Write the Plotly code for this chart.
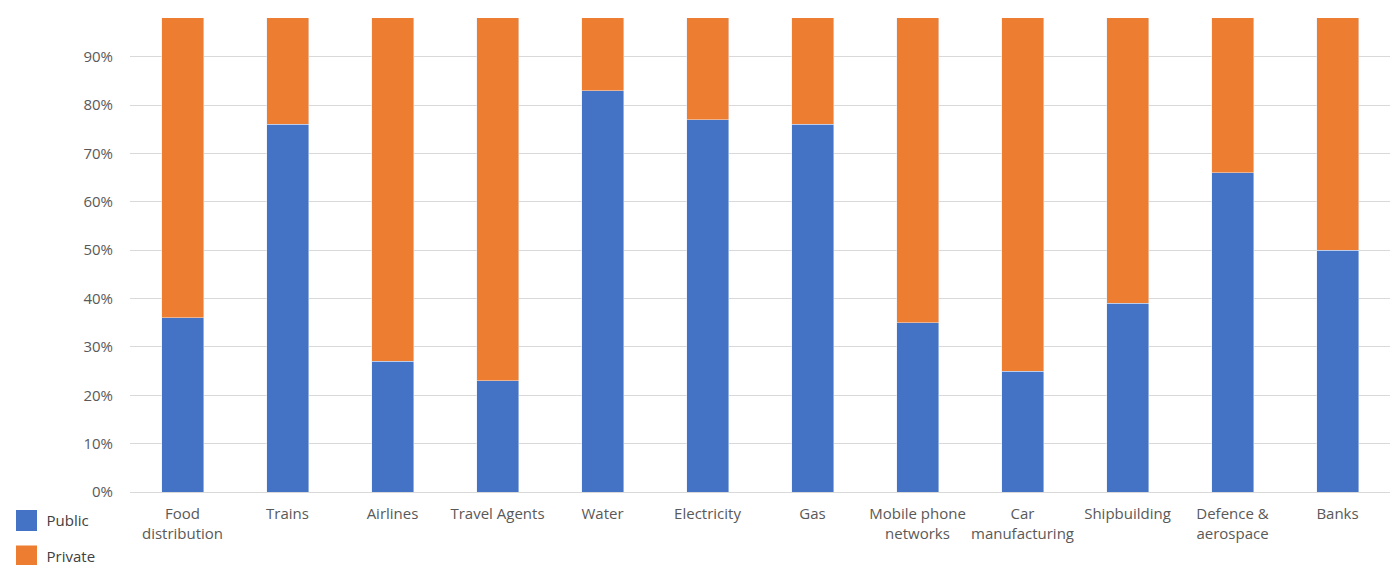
import plotly.graph_objects as go

categories = ["Food<br>distribution", "Trains", "Airlines", "Travel Agents", "Water",
              "Electricity", "Gas", "Mobile phone<br>networks", "Car<br>manufacturing",
              "Shipbuilding", "Defence &<br>aerospace", "Banks"]
public = [36, 76, 27, 23, 83, 77, 76, 35, 25, 39, 66, 50]
private = [64, 24, 73, 77, 17, 23, 24, 65, 75, 61, 34, 50]
series_names = ["Public", "Private"]
y_ticks = [0, 10, 20, 30, 40, 50, 60, 70, 80, 90]
y_tick_labels = [f"{v}%" for v in y_ticks]

BLUE = "#4472C4"
ORANGE = "#ED7D31"
FONT = "Open Sans"
TXT = "#595959"

fig = go.Figure()
for name, vals, col, grp in [(series_names[0], public, BLUE, "a"),
                             (series_names[1], private, ORANGE, "b")]:
    fig.add_trace(go.Bar(x=categories, y=vals, name=name, marker_color=col,
                         legendgroup=grp, showlegend=False))
# legend entries with larger square keys (as in the original)
for name, col, grp in [(series_names[0], BLUE, "a"), (series_names[1], ORANGE, "b")]:
    fig.add_trace(go.Scatter(x=[None], y=[None], mode="markers", name=name,
                             legendgroup=grp, hoverinfo="skip",
                             marker=dict(symbol="square", size=16, color=col,
                                         line=dict(color=col, width=5))))

fig.update_layout(
    width=1390, height=565,
    barmode="stack", bargap=0.6,
    plot_bgcolor="white", paper_bgcolor="white",
    margin=dict(l=130, r=0, t=18, b=73, autoexpand=False),
    font=dict(family=FONT, size=15, color=TXT),
    showlegend=True,
    legend=dict(orientation="v", x=-0.098, xanchor="left", y=-0.026, yanchor="top",
                traceorder="grouped", tracegroupgap=13, itemsizing="trace",
                font=dict(family=FONT, size=15, color="#404040"),
                bgcolor="rgba(0,0,0,0)"),
)
fig.update_xaxes(showgrid=False, showline=False, ticks="", tickangle=0,
                 automargin=False,
                 tickfont=dict(family=FONT, size=15, color=TXT),
                 ticklabelstandoff=11)
fig.update_yaxes(range=[0, 98], tickvals=y_ticks, ticktext=y_tick_labels,
                 showgrid=True, gridcolor="#D9D9D9", gridwidth=1,
                 zeroline=True, zerolinecolor="#D9D9D9", zerolinewidth=1,
                 showline=False, ticks="", automargin=False,
                 tickfont=dict(family=FONT, size=15, color=TXT),
                 ticklabelstandoff=16)

fig.write_html("out.html")
